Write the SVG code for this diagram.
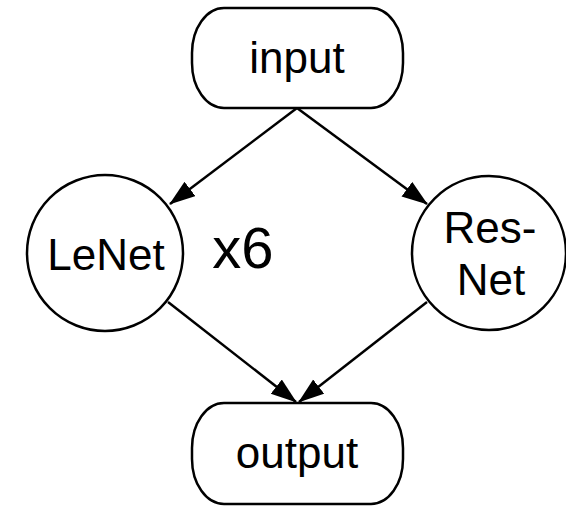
<svg xmlns="http://www.w3.org/2000/svg" width="566" height="506" viewBox="0 0 566 506">
<defs>
<style>
.shape{fill:#fff;stroke:#000;stroke-width:2.5}
.lbl{font-family:"Liberation Sans",Arial,sans-serif;font-size:44px;fill:#000;text-anchor:middle}
.edge{fill:none;stroke:#000;stroke-width:2.5;marker-end:url(#ah)}
</style>
<marker id="ah" markerUnits="userSpaceOnUse" markerWidth="28" markerHeight="20" refX="25" refY="9" orient="auto">
<path d="M0,0 L26,9 L0,18 z" fill="#000"/>
</marker>
</defs>
<rect width="566" height="506" fill="#fff"/>
<g id="edges">
<line class="edge" x1="297" y1="108" x2="170" y2="204"/>
<line class="edge" x1="297" y1="108" x2="427" y2="204"/>
<line class="edge" x1="168" y1="302" x2="296" y2="402"/>
<line class="edge" x1="427" y1="302" x2="299" y2="402"/>
</g>
<g id="input">
<rect class="shape" x="192" y="8" width="211" height="100" rx="32" ry="45"/>
<text class="lbl" x="297" y="73">input</text>
</g>
<g id="lenet">
<circle class="shape" cx="105" cy="253" r="78"/>
<text class="lbl" x="106" y="270">LeNet</text>
</g>
<g id="x6label">
<text x="243" y="268" style="font-family:'Liberation Sans',Arial,sans-serif;font-size:58px;text-anchor:middle">x6</text>
</g>
<g id="resnet">
<circle class="shape" cx="489" cy="253" r="77"/>
<text class="lbl" x="490" y="243">Res-</text>
<text class="lbl" x="491" y="295">Net</text>
</g>
<g id="output">
<rect class="shape" x="192" y="403" width="211" height="101" rx="32" ry="45"/>
<text class="lbl" x="297" y="468">output</text>
</g>
</svg>
